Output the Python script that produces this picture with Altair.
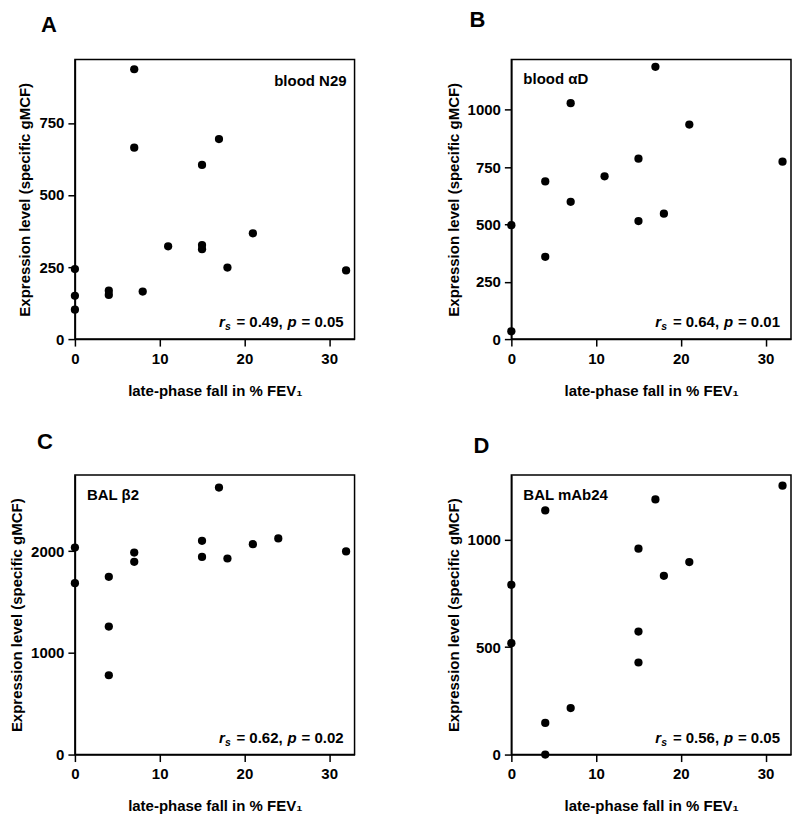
import altair as alt
import pandas as pd

# ---- data ----
x_A = [0, 0, 0, 4, 4, 7, 7, 8, 11, 15, 15, 15, 17, 18, 21, 32]
y_A = [243, 150, 102, 168, 153, 936, 664, 165, 322, 604, 326, 312, 694, 248, 367, 238]

x_B = [0, 0, 4, 4, 7, 7, 11, 15, 15, 17, 18, 21, 32]
y_B = [497, 34, 688, 359, 1029, 599, 710, 787, 515, 1188, 547, 936, 774]

x_C = [0, 0, 4, 4, 4, 7, 7, 15, 15, 17, 18, 21, 24, 32]
y_C = [2036, 1685, 1748, 1259, 780, 1987, 1895, 2102, 1944, 2626, 1928, 2069, 2125, 1997]

x_D = [0, 0, 4, 4, 4, 7, 15, 15, 15, 17, 18, 21, 32]
y_D = [789, 518, 1135, 147, 0, 216, 957, 572, 428, 1186, 831, 895, 1250]

letters = ["A", "B", "C", "D"]
markers = ["blood N29", "blood \u03b1D", "BAL \u03b22", "BAL mAb24"]
rs_values = ["0.49", "0.64", "0.62", "0.56"]
p_values = ["0.05", "0.01", "0.02", "0.05"]
y_max = [970, 1220, 2750, 1300]
y_ticks = [[0, 250, 500, 750], [0, 250, 500, 750, 1000], [0, 1000, 2000], [0, 500, 1000]]
x_ticks = [0, 10, 20, 30]

X_TITLE = "late-phase fall in % FEV\u2081"
Y_TITLE = "Expression level (specific gMCF)"

W = 280
H = 280
FONT = "Liberation Sans"

# panel-specific styling (not data)
title_dx = [-34, -42, -38, -38]
title_offset = [22, 27, 21, 17]
marker_right = [True, False, False, False]


def text_layer(txt, x, y, align="left", size=15, style="normal", dy=0):
    return alt.Chart(pd.DataFrame({"t": [txt]})).mark_text(
        align=align, baseline="alphabetic", font=FONT, fontSize=size,
        fontWeight="bold", fontStyle=style, color="black", dy=dy
    ).encode(text="t:N", x=alt.value(x), y=alt.value(y))


def panel(i, xs, ys):
    df = pd.DataFrame({"fall": xs, "expr": ys})
    pts = alt.Chart(df).mark_circle(size=68, color="black", opacity=1).encode(
        x=alt.X("fall:Q",
                scale=alt.Scale(domain=[0, 33], nice=False, zero=False),
                axis=alt.Axis(values=x_ticks, title=X_TITLE, titlePadding=17,
                              labelPadding=5, format="d")),
        y=alt.Y("expr:Q",
                scale=alt.Scale(domain=[0, y_max[i]], nice=False),
                axis=alt.Axis(values=y_ticks[i], title=Y_TITLE, titlePadding=6,
                              labelPadding=4, format="d")),
    )
    layers = [pts]
    if marker_right[i]:
        layers.append(text_layer(markers[i], W - 8, 27, align="right"))
    else:
        layers.append(text_layer(markers[i], 12, 25, align="left"))

    R = W - 11
    yb = H - 12
    layers.append(text_layer("= " + p_values[i], R, yb, align="right"))
    layers.append(text_layer("p", R - 47, yb, align="right", style="italic"))
    layers.append(text_layer("= " + rs_values[i] + ",", R - 61, yb, align="right"))
    layers.append(text_layer("s", R - 113, yb, align="right", size=10.5, style="italic", dy=3))
    layers.append(text_layer("r", R - 119, yb, align="right", style="italic"))

    return alt.layer(*layers).properties(
        width=W, height=H,
        title=alt.TitleParams(text=letters[i], anchor="start", frame="group",
                              dx=title_dx[i], offset=title_offset[i],
                              fontSize=22, fontWeight="bold", font=FONT,
                              color="black"),
    )


charts = [panel(0, x_A, y_A), panel(1, x_B, y_B), panel(2, x_C, y_C), panel(3, x_D, y_D)]

chart = alt.concat(*charts, columns=2, spacing={"row": 136, "column": 157},
                   bounds="flush").properties(padding=0).configure_view(
    stroke="black", strokeWidth=1.5
).configure_axis(
    domainColor="black", domainWidth=1.5, tickColor="black", tickWidth=1.5,
    tickSize=7, labelFont=FONT, labelFontSize=15, labelFontWeight="bold",
    labelColor="black", titleFont=FONT, titleFontSize=15, titleFontWeight="bold",
    titleColor="black", grid=False, labelFlush=False
).configure_text(font=FONT)

chart.save("out.html", embed_options={"renderer": "svg", "actions": False})
